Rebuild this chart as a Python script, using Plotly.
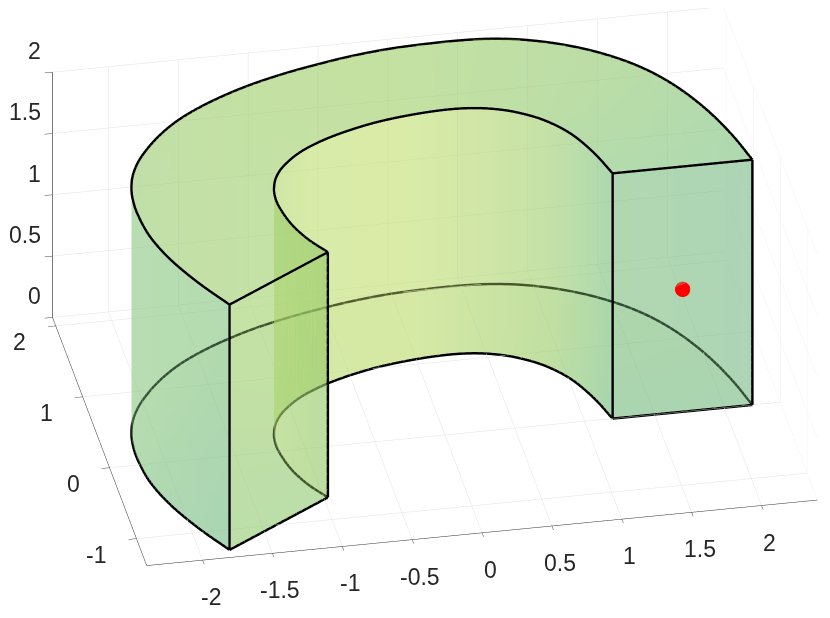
import numpy as np
import plotly.graph_objects as go

# --- values ---
outer_x = [2.2, 2.131, 2.017, 1.853, 1.67, 1.429, 1.197, 0.934, 0.753, 0.566, 0.365, -0.019, -0.291,
           -0.543, -0.795, -1.079, -1.372, -1.65, -1.831, -2.029, -2.112, -2.165, -2.185, -2.188, -2.169, -2.088, -1.946, -1.787]
outer_y = [0.0, 0.371, 0.768, 1.151, 1.435, 1.669, 1.827, 1.944, 1.988, 2.011, 2.014, 2.0, 1.946,
           1.878, 1.801, 1.689, 1.527, 1.324, 1.127, 0.837, 0.639, 0.439, 0.247, 0.075, -0.257, -0.576, -0.954, -1.276]
inner_x = [1.2, 1.131, 1.023, 0.874, 0.688, 0.557, 0.399, 0.235, -0.008, -0.279, -0.51, -0.719, -0.911,
           -1.064, -1.133, -1.174, -1.192, -1.198, -1.159, -1.083, -0.971]
inner_y = [0.0, 0.311, 0.613, 0.828, 0.973, 1.036, 1.081, 1.094, 1.072, 1.023, 0.937, 0.838, 0.712,
           0.531, 0.405, 0.273, 0.15, 0.021, -0.268, -0.493, -0.693]
height = 2.0
point_x = [1.7]
point_y = [0.0]
point_z = [1.0]
x_range = [-2.4, 2.4]
y_range = [-1.38, 2.12]
z_range = [0.0, 2.0]
x_ticks = [-2, -1.5, -1, -0.5, 0, 0.5, 1, 1.5, 2]
x_labels = ["-2", "-1.5", "-1", "-0.5", "0", "0.5", "1", "1.5", "2"]
y_ticks = [-1, 0, 1, 2]
y_labels = ["-1", "0", "1", "2"]
z_ticks = [0, 0.5, 1, 1.5, 2]
z_labels = ["0", "0.5", "1", "1.5", "2"]

# colour stops along the angle (deg)
stop_angles = [0, 25, 45, 90, 135, 180, 215]
outer_colors = [(135, 195, 150), (145, 200, 140), (155, 205, 130), (175, 215, 115), (165, 210, 120), (140, 200, 140), (120, 190, 140)]
inner_colors = [(110, 185, 135), (140, 200, 120), (170, 210, 110), (210, 230, 120), (210, 230, 120), (165, 210, 105), (125, 190, 90)]
top_colors = [(125, 195, 125), (135, 198, 118), (145, 200, 110), (155, 205, 105), (160, 205, 110), (160, 205, 115), (160, 205, 115)]
bottom_colors = [(125, 195, 125), (135, 198, 118), (145, 200, 110), (155, 205, 105), (155, 205, 110), (135, 195, 120), (125, 190, 130)]
end_right_color = (120, 185, 135)
end_left_color = (165, 210, 115)
alpha = 0.4


def smooth(px, py, sub=6):
    """Catmull-Rom curve through the read outline points (3D lines have no spline shape)."""
    p = np.column_stack([px, py])
    p[1:-1] = 0.2 * p[:-2] + 0.6 * p[1:-1] + 0.2 * p[2:]
    q = np.vstack([2 * p[0] - p[1], p, 2 * p[-1] - p[-2]])
    out = []
    for s in range(1, len(q) - 2):
        p0, p1, p2, p3 = q[s - 1], q[s], q[s + 1], q[s + 2]
        for t in np.arange(sub) / sub:
            out.append(0.5 * (2 * p1 + (p2 - p0) * t + (2 * p0 - 5 * p1 + 4 * p2 - p3) * t ** 2
                              + (3 * p1 - p0 - 3 * p2 + p3) * t ** 3))
    out.append(p[-1])
    out = np.array(out)
    return out[:, 0], out[:, 1]


ox, oy = smooth(outer_x, outer_y)
ix, iy = smooth(inner_x, inner_y)


def angle(x, y):
    d = np.degrees(np.arctan2(y, x)) % 360
    return np.where(d > 300, 0, d)


def ramp(deg, stops):
    arr = np.array(stops, float)
    return np.column_stack([np.interp(deg, stop_angles, arr[:, c]) for c in range(3)])


def rgb(arr):
    return [f"rgb({int(r)},{int(g)},{int(b)})" for r, g, b in arr]


LIGHT = dict(ambient=1, diffuse=0, specular=0, roughness=1, fresnel=0)


def mesh(pts, i, j, k, cols):
    return go.Mesh3d(x=pts[:, 0], y=pts[:, 1], z=pts[:, 2], i=i, j=j, k=k,
                     vertexcolor=rgb(cols), opacity=alpha, hoverinfo="skip",
                     lighting=LIGHT, showscale=False)


def wall(x, y, stops):
    n = len(x)
    low = np.column_stack([x, y, np.zeros(n)])
    high = np.column_stack([x, y, np.full(n, height)])
    cols = ramp(angle(x, y), stops)
    i = list(range(n - 1)) + list(range(1, n))
    j = list(range(1, n)) + list(range(n + 1, 2 * n))
    k = list(range(n, 2 * n - 1)) + list(range(n, 2 * n - 1))
    return mesh(np.vstack([low, high]), i, j, k, np.vstack([cols, cols]))


def ring(z, stops):
    n, m = len(ox), len(ix)
    pts = np.vstack([np.column_stack([ox, oy, np.full(n, z)]), np.column_stack([ix, iy, np.full(m, z)])])
    deg = angle(pts[:, 0], pts[:, 1])
    tris = []
    p, q = 0, 0
    while p < n - 1 or q < m - 1:
        if q == m - 1 or (p < n - 1 and deg[p + 1] <= deg[n + q + 1]):
            tris.append((p, p + 1, n + q))
            p += 1
        else:
            tris.append((p, n + q + 1, n + q))
            q += 1
    t = np.array(tris)
    return mesh(pts, t[:, 0], t[:, 1], t[:, 2], ramp(deg, stops))


def end_face(idx_o, idx_i, col):
    pts = np.array([[ix[idx_i], iy[idx_i], 0], [ox[idx_o], oy[idx_o], 0],
                    [ox[idx_o], oy[idx_o], height], [ix[idx_i], iy[idx_i], height]])
    return mesh(pts, [0, 0], [1, 2], [2, 3], np.array([col] * 4, float))


def line(x, y, z):
    return go.Scatter3d(x=x, y=y, z=z, mode="lines",
                        line=dict(color="black", width=5), hoverinfo="skip", showlegend=False)


traces = [
    ring(0.0, bottom_colors),
    wall(ox, oy, outer_colors),
    wall(ix, iy, inner_colors),
    end_face(0, 0, end_right_color),
    end_face(-1, -1, end_left_color),
    ring(height, top_colors),
]
for x, y in ((ox, oy), (ix, iy)):
    traces.append(line(x, y, np.zeros(len(x))))
    traces.append(line(x, y, np.full(len(x), height)))
for idx in (0, -1):
    for x, y in ((ox, oy), (ix, iy)):
        traces.append(line([x[idx], x[idx]], [y[idx], y[idx]], [0, height]))
    for z in (0, height):
        traces.append(line([ix[idx], ox[idx]], [iy[idx], oy[idx]], [z, z]))
traces.append(go.Scatter3d(x=point_x, y=point_y, z=point_z, mode="markers",
                           marker=dict(color="rgb(255,0,0)", size=9), hoverinfo="skip", showlegend=False))


def axis(rng, vals, linecol, linew):
    return dict(range=rng, autorange=False, tickmode="array", tickvals=vals,
                showticklabels=False,
                showbackground=False, showgrid=True, gridcolor="rgb(226,226,226)", gridwidth=1,
                zeroline=False, showline=True, linecolor=linecol, linewidth=linew,
                ticks="outside", ticklen=8, tickcolor="rgb(70,70,70)", tickwidth=1,
                showspikes=False, title=dict(text=""))


LABEL_FONT = dict(family="Liberation Sans", size=23, color="rgb(38,38,38)")


def tick_note(x, y, z, text, xanchor, xshift, yshift):
    return dict(x=x, y=y, z=z, text=text, showarrow=False, font=LABEL_FONT,
                xanchor=xanchor, yanchor="middle", xshift=xshift, yshift=yshift)


notes = []
for v, t in zip(x_ticks, x_labels):
    notes.append(tick_note(v, y_range[0], z_range[0], t, "center", 8, -37))
for v, t in zip(y_ticks, y_labels):
    notes.append(tick_note(x_range[0], v, z_range[0], t, "right", -28, -16))
for v, t in zip(z_ticks, z_labels):
    notes.append(tick_note(x_range[0], y_range[1], v, t, "right", -10, 21))

a = np.radians(10.9)
el = np.radians(30.5)
dist = 1.63
zoom = 140 / 152
direction = np.array([-np.sin(a) * np.cos(el), -np.cos(a) * np.cos(el), np.sin(el)])
right = np.array([np.cos(a), -np.sin(a), 0.0])
up = np.cross(right, -direction)
px_per_scene = 310.0
shift = (-12 * right + (-31) * up) / px_per_scene
eye_vec = direction * dist + shift
center = dict(x=shift[0], y=shift[1], z=shift[2])
eye = dict(x=eye_vec[0], y=eye_vec[1], z=eye_vec[2])

fig = go.Figure(traces)
fig.update_layout(
    width=830, height=618, paper_bgcolor="white", showlegend=False,
    margin=dict(l=0, r=0, t=0, b=0),
    scene=dict(
        xaxis=axis(x_range, x_ticks, "rgb(50,50,50)", 1),
        yaxis=axis(y_range, y_ticks, "rgb(50,50,50)", 1),
        zaxis=axis(z_range, z_ticks, "rgb(120,120,120)", 2),
        annotations=notes,
        aspectmode="manual",
        aspectratio=dict(x=(x_range[1] - x_range[0]) / 2 * zoom, y=(y_range[1] - y_range[0]) / 2 * zoom,
                         z=(z_range[1] - z_range[0]) / 2 * zoom),
        camera=dict(eye=eye, up=dict(x=0, y=0, z=1), center=center,
                    projection=dict(type="orthographic")),
    ),
)
fig.write_html("out.html")
